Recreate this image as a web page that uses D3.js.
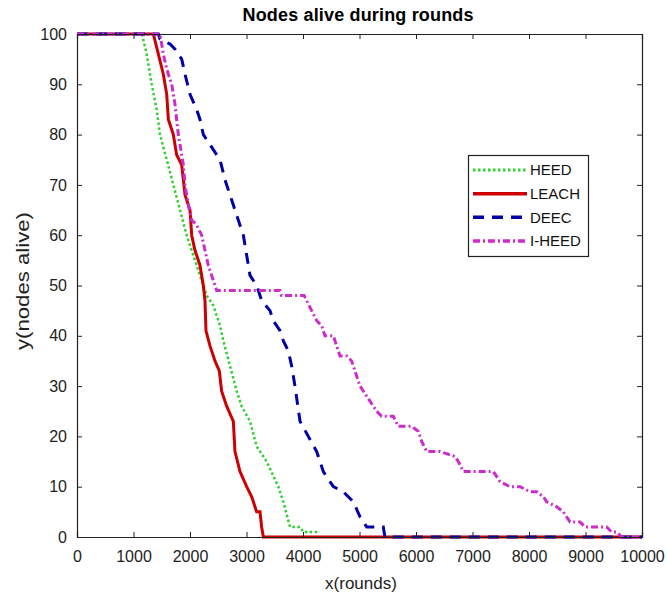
<!DOCTYPE html>
<html>
<head>
<meta charset="utf-8">
<script src="https://cdn.jsdelivr.net/npm/d3@7"></script>
<style>
  body { margin: 0; background: #fff; }
  text { font-family: "Liberation Sans", Arial, sans-serif; }
</style>
</head>
<body>
<div id="chart"></div>
<script>
// series data: [round, nodes alive]
const heed = [[0,100],[1150,100],[1233,96],[1322,90],[1410,85],[1469,80],[1588,75],[1705,70],[1823,65],[1941,60],[2059,56],[2177,52],[2295,48],[2413,46],[2531,42],[2590,39],[2708,34],[2826,29],[2914,26],[3062,23],[3180,18],[3357,15],[3563,10],[3652,7],[3770,2],[3947,2],[4006,1],[4300,1]];
const leach = [[0,100],[1351,100],[1440,96],[1528,92],[1588,88],[1617,83],[1705,80],[1763,76],[1853,74],[1912,68],[2000,65],[2030,60],[2088,57],[2177,54],[2236,50],[2265,47],[2283,41],[2354,38],[2442,35],[2519,33],[2560,29],[2649,26],[2767,23],[2796,17],[2885,13],[3003,10],[3092,8],[3180,5],[3239,5],[3268,2],[3298,0],[10000,0]];
const deec = [[0,100],[1440,100],[1469,99],[1646,98],[1735,97],[1853,95],[1912,92],[2000,88],[2118,85],[2177,83],[2236,80],[2354,78],[2531,75],[2620,71],[2708,68],[2767,66],[2914,61],[2944,60],[3003,56],[3062,52],[3180,50],[3239,48],[3268,47],[3416,45],[3475,43],[3593,41],[3652,39],[3740,37],[3799,34],[3858,30],[3947,23],[4094,20],[4242,17],[4360,13],[4537,10],[4714,9],[4891,7],[5009,4],[5068,3],[5127,2],[5421,2],[5450,0],[10000,0]];
const iheed = [[0,100],[1469,100],[1528,96],[1588,93],[1676,90],[1735,86],[1763,83],[1793,80],[1853,76],[1882,74],[1912,70],[1970,66],[2030,63],[2118,62],[2207,60],[2265,57],[2324,54],[2383,52],[2472,49],[3593,49],[3620,48],[4020,48],[4065,47],[4153,45],[4242,43],[4330,42],[4389,40],[4537,40],[4596,38],[4655,36],[4773,36],[4861,35],[4920,33],[5009,30],[5186,27],[5304,25],[5391,24],[5598,24],[5687,22],[5923,22],[6041,21],[6100,19],[6189,17],[6425,17],[6690,16],[6749,15],[6838,13],[7369,13],[7487,11],[7664,10],[7841,10],[8018,9],[8136,9],[8254,8],[8313,7],[8490,6],[8608,5],[8726,3],[8903,3],[8991,2],[9374,2],[9462,1],[9550,1],[9639,0],[10000,0]];

const seriesNames = ["HEED", "LEACH", "DEEC", "I-HEED"];
const xTicks = [0,1000,2000,3000,4000,5000,6000,7000,8000,9000,10000];
const yTicks = [0,10,20,30,40,50,60,70,80,90,100];

const width = 667, height = 601;
const box = { left: 77, right: 642, top: 34, bottom: 537 };

const svg = d3.select("#chart").append("svg")
    .attr("width", width)
    .attr("height", height);

const x = d3.scaleLinear().domain([0, 10000]).range([box.left, box.right]);
const y = d3.scaleLinear().domain([0, 100]).range([box.bottom, box.top]);

// line styles per series
const styles = [
    { data: heed,  color: "#2fd12f", width: 2.5, dash: "2.5,2.5" },
    { data: leach, color: "#cc0000", width: 3,   dash: null },
    { data: deec,  color: "#0000a8", width: 3,   dash: "11,8" },
    { data: iheed, color: "#cc2ccc", width: 3,   dash: "7,3,2,3" }
];

const line = d3.line().x(d => x(d[0])).y(d => y(d[1]));

// clip to plot box
svg.append("clipPath").attr("id", "clip")
    .append("rect")
    .attr("x", box.left).attr("y", box.top - 2)
    .attr("width", box.right - box.left).attr("height", box.bottom - box.top + 4);

const plot = svg.append("g").attr("clip-path", "url(#clip)");
styles.forEach(s => {
    plot.append("path")
        .datum(s.data)
        .attr("fill", "none")
        .attr("stroke", s.color)
        .attr("stroke-width", s.width)
        .attr("stroke-dasharray", s.dash)
        .attr("d", line);
});

// axes with inward ticks (box style)
const bottomAxis = svg.append("g")
    .attr("transform", `translate(0,${box.bottom})`)
    .call(d3.axisBottom(x).tickValues(xTicks).tickSize(-5).tickPadding(14).tickFormat(d3.format("d")));
const topAxis = svg.append("g")
    .attr("transform", `translate(0,${box.top})`)
    .call(d3.axisTop(x).tickValues(xTicks).tickSize(-5).tickFormat(""));
const leftAxis = svg.append("g")
    .attr("transform", `translate(${box.left},0)`)
    .call(d3.axisLeft(y).tickValues(yTicks).tickSize(-5).tickPadding(10));
const rightAxis = svg.append("g")
    .attr("transform", `translate(${box.right},0)`)
    .call(d3.axisRight(y).tickValues(yTicks).tickSize(-5).tickFormat(""));

[bottomAxis, topAxis, leftAxis, rightAxis].forEach(a => {
    a.select(".domain").attr("stroke", "#222").attr("stroke-width", 1.2);
    a.selectAll(".tick line").attr("stroke", "#222");
    a.selectAll(".tick text")
        .attr("fill", "#222")
        .style("font-size", "16px")
        .style("font-family", "'Liberation Sans', Arial, sans-serif");
});

// title and axis labels
svg.append("text")
    .attr("x", 358).attr("y", 21)
    .attr("text-anchor", "middle")
    .attr("textLength", 231)
    .style("font-size", "18px")
    .style("font-weight", "bold")
    .text("Nodes alive during rounds");

svg.append("text")
    .attr("x", 361).attr("y", 589)
    .attr("text-anchor", "middle")
    .style("font-size", "17px")
    .attr("fill", "#222")
    .text("x(rounds)");

svg.append("text")
    .attr("transform", "translate(29,281) rotate(-90)")
    .attr("text-anchor", "middle")
    .attr("textLength", 138)
    .attr("lengthAdjust", "spacingAndGlyphs")
    .style("font-size", "18px")
    .attr("fill", "#222")
    .text("y(nodes alive)");

// legend
const legend = svg.append("g");
legend.append("rect")
    .attr("x", 468.5).attr("y", 155.5)
    .attr("width", 120).attr("height", 101)
    .attr("fill", "#fff")
    .attr("stroke", "#222")
    .attr("stroke-width", 1.2);

const legendY = d3.scalePoint().domain(seriesNames).range([170, 241]);
seriesNames.forEach((name, i) => {
    const s = styles[i];
    legend.append("line")
        .attr("x1", 473).attr("x2", 527)
        .attr("y1", legendY(name)).attr("y2", legendY(name))
        .attr("stroke", s.color)
        .attr("stroke-width", s.width + 0.5)
        .attr("stroke-dasharray", s.dash);
    legend.append("text")
        .attr("x", 530).attr("y", legendY(name))
        .attr("dy", "0.36em")
        .style("font-size", "15px")
        .attr("fill", "#111")
        .text(name);
});
</script>
</body>
</html>
